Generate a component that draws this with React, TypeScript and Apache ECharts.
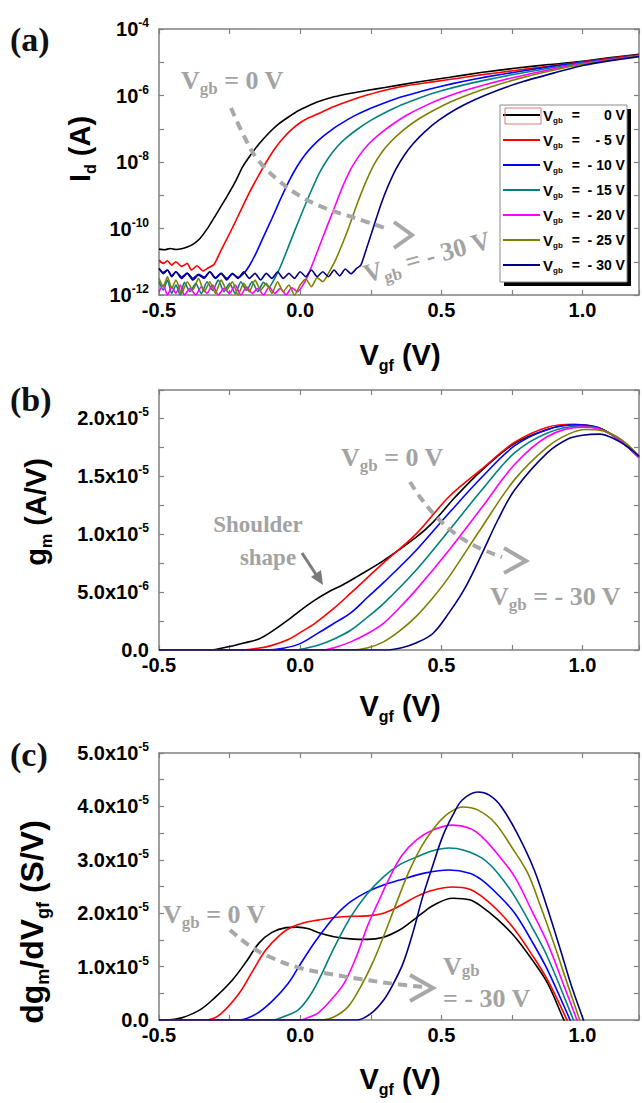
import React, { useEffect, useRef } from "react";
import * as echarts from "echarts";

const SANS = "'Liberation Sans', Arial, sans-serif";
const SERIF = "'Liberation Serif', 'Times New Roman', serif";
const FRAME = "#808080";
const NOTE = "#a3a3a3";

// Back-gate bias of each curve and its colour
const VGB_NAMES = ["0 V", "- 5 V", "- 10 V", "- 15 V", "- 20 V", "- 25 V", "- 30 V"];
const VGB_COLORS = ["#000000", "#ff0000", "#0000ff", "#008080", "#ff00ff", "#808000", "#000080"];

// (a) transfer curves: [Vgf (V), log10 Id (A)]
const ID_0V = [[-0.5,-10.62],[-0.48,-10.64],[-0.46,-10.6],[-0.44,-10.63],[-0.42,-10.61],[-0.4,-10.56],[-0.38,-10.48],[-0.355,-10.3],[-0.33,-10.02],[-0.31,-9.75],[-0.285,-9.4],[-0.26,-9.05],[-0.23,-8.6],[-0.205,-8.16],[-0.175,-7.78],[-0.146,-7.46],[-0.11,-7.12],[-0.077,-6.86],[-0.04,-6.64],[-0.007,-6.46],[0.03,-6.31],[0.063,-6.19],[0.12,-6.04],[0.18,-5.93],[0.24,-5.84],[0.3,-5.76],[0.41,-5.6],[0.53,-5.45],[0.64,-5.31],[0.76,-5.18],[0.88,-5.07],[0.99,-4.98],[1.1,-4.86],[1.2,-4.76]];
const ID_5V = [[-0.5,-10.95],[-0.485,-11.05],[-0.47,-10.97],[-0.455,-11.1],[-0.44,-11.0],[-0.42,-11.14],[-0.4,-11.05],[-0.385,-11.25],[-0.365,-11.12],[-0.345,-11.28],[-0.325,-11.18],[-0.305,-11.08],[-0.28,-10.65],[-0.26,-10.32],[-0.24,-9.98],[-0.21,-9.45],[-0.18,-8.92],[-0.15,-8.45],[-0.12,-8.0],[-0.09,-7.6],[-0.06,-7.28],[-0.03,-7.02],[0.0,-6.82],[0.03,-6.67],[0.063,-6.55],[0.12,-6.33],[0.18,-6.14],[0.24,-5.98],[0.3,-5.84],[0.38,-5.7],[0.47,-5.59],[0.56,-5.48],[0.64,-5.38],[0.76,-5.25],[0.88,-5.12],[1.0,-4.99],[1.1,-4.88],[1.2,-4.78]];
const ID_10V = [[-0.5,-11.2],[-0.485,-11.32],[-0.47,-11.25],[-0.455,-11.42],[-0.44,-11.3],[-0.42,-11.46],[-0.4,-11.34],[-0.38,-11.5],[-0.36,-11.38],[-0.34,-11.46],[-0.32,-11.3],[-0.3,-11.48],[-0.28,-11.35],[-0.26,-11.5],[-0.24,-11.37],[-0.22,-11.47],[-0.2,-11.35],[-0.18,-11.12],[-0.155,-10.72],[-0.13,-10.25],[-0.1,-9.7],[-0.07,-9.12],[-0.04,-8.58],[-0.01,-8.12],[0.02,-7.75],[0.05,-7.47],[0.08,-7.24],[0.11,-7.04],[0.14,-6.87],[0.19,-6.62],[0.24,-6.42],[0.3,-6.22],[0.36,-6.04],[0.43,-5.87],[0.5,-5.72],[0.58,-5.57],[0.66,-5.44],[0.76,-5.3],[0.88,-5.14],[1.0,-5.0],[1.1,-4.9],[1.2,-4.8]];
const ID_15V = [[-0.5,-11.6],[-0.485,-11.85],[-0.47,-11.55],[-0.455,-11.95],[-0.44,-11.7],[-0.425,-12.0],[-0.41,-11.62],[-0.39,-11.9],[-0.37,-11.65],[-0.35,-11.96],[-0.33,-11.6],[-0.31,-11.86],[-0.29,-11.55],[-0.27,-11.9],[-0.25,-11.65],[-0.23,-11.96],[-0.21,-11.6],[-0.19,-11.86],[-0.17,-11.6],[-0.15,-11.9],[-0.13,-11.62],[-0.11,-11.76],[-0.09,-11.5],[-0.07,-11.15],[-0.045,-10.62],[-0.02,-10.08],[0.01,-9.45],[0.04,-8.85],[0.07,-8.3],[0.1,-7.88],[0.13,-7.55],[0.16,-7.3],[0.2,-7.03],[0.25,-6.75],[0.3,-6.52],[0.36,-6.28],[0.43,-6.05],[0.5,-5.86],[0.58,-5.68],[0.66,-5.53],[0.76,-5.36],[0.88,-5.18],[1.0,-5.02],[1.1,-4.91],[1.2,-4.8]];
const ID_20V = [[-0.5,-11.9],[-0.485,-11.7],[-0.47,-12.0],[-0.455,-11.75],[-0.44,-11.95],[-0.425,-11.7],[-0.41,-12.0],[-0.39,-11.8],[-0.37,-12.0],[-0.35,-11.75],[-0.33,-11.95],[-0.31,-11.7],[-0.29,-12.0],[-0.27,-11.8],[-0.25,-11.95],[-0.23,-11.7],[-0.21,-12.0],[-0.19,-11.75],[-0.17,-11.95],[-0.15,-11.8],[-0.13,-12.0],[-0.11,-11.75],[-0.09,-11.95],[-0.07,-11.8],[-0.05,-12.0],[-0.03,-11.78],[-0.01,-11.9],[0.017,-11.6],[0.04,-11.15],[0.065,-10.6],[0.09,-10.05],[0.12,-9.4],[0.15,-8.75],[0.18,-8.2],[0.21,-7.8],[0.24,-7.48],[0.28,-7.17],[0.33,-6.85],[0.38,-6.58],[0.44,-6.32],[0.5,-6.1],[0.58,-5.86],[0.66,-5.66],[0.76,-5.45],[0.88,-5.23],[1.0,-5.04],[1.1,-4.92],[1.2,-4.81]];
const ID_25V = [[-0.5,-11.5],[-0.485,-11.75],[-0.47,-11.45],[-0.455,-11.8],[-0.44,-11.55],[-0.42,-11.95],[-0.4,-11.6],[-0.38,-11.85],[-0.36,-11.5],[-0.34,-11.9],[-0.32,-11.6],[-0.3,-11.95],[-0.28,-11.55],[-0.26,-11.85],[-0.24,-11.6],[-0.22,-12.0],[-0.2,-11.65],[-0.18,-11.9],[-0.16,-11.55],[-0.14,-11.85],[-0.12,-11.65],[-0.1,-11.95],[-0.08,-11.6],[-0.06,-11.9],[-0.04,-11.7],[-0.02,-12.0],[0.0,-11.7],[0.02,-11.52],[0.04,-11.75],[0.06,-11.48],[0.08,-11.6],[0.1,-11.35],[0.125,-10.95],[0.15,-10.45],[0.175,-9.9],[0.2,-9.3],[0.23,-8.65],[0.26,-8.1],[0.29,-7.7],[0.32,-7.4],[0.36,-7.08],[0.41,-6.76],[0.47,-6.46],[0.53,-6.2],[0.6,-5.96],[0.68,-5.73],[0.77,-5.5],[0.88,-5.27],[1.0,-5.06],[1.1,-4.93],[1.2,-4.81]];
const ID_30V = [[-0.5,-11.2],[-0.485,-11.36],[-0.47,-11.25],[-0.455,-11.45],[-0.44,-11.3],[-0.42,-11.5],[-0.4,-11.35],[-0.38,-11.55],[-0.36,-11.4],[-0.34,-11.5],[-0.32,-11.3],[-0.3,-11.5],[-0.28,-11.35],[-0.26,-11.55],[-0.24,-11.35],[-0.22,-11.5],[-0.2,-11.3],[-0.18,-11.5],[-0.16,-11.35],[-0.14,-11.55],[-0.12,-11.35],[-0.1,-11.5],[-0.08,-11.3],[-0.06,-11.5],[-0.04,-11.35],[-0.02,-11.5],[0.0,-11.3],[0.02,-11.45],[0.04,-11.25],[0.06,-11.45],[0.08,-11.3],[0.1,-11.45],[0.12,-11.25],[0.14,-11.42],[0.16,-11.22],[0.18,-11.36],[0.2,-11.2],[0.215,-11.1],[0.235,-10.6],[0.26,-9.95],[0.285,-9.3],[0.31,-8.75],[0.34,-8.2],[0.37,-7.78],[0.4,-7.45],[0.44,-7.1],[0.49,-6.75],[0.55,-6.42],[0.62,-6.12],[0.7,-5.84],[0.79,-5.58],[0.9,-5.32],[1.0,-5.1],[1.1,-4.95],[1.2,-4.83]];

// (b) transconductance: [Vgf (V), gm (1e-6 A/V)]
const GM_0V = [[-0.5,0],[-0.35,0],[-0.3,0.05],[-0.25,0.3],[-0.2,0.6],[-0.146,0.95],[-0.1,1.6],[-0.042,2.6],[0.0,3.4],[0.052,4.3],[0.1,5.0],[0.15,5.6],[0.2,6.3],[0.295,7.7],[0.41,9.7],[0.47,11.0],[0.55,13.2],[0.644,15.5],[0.76,17.8],[0.876,19.0],[0.96,19.4],[1.0,19.35],[1.07,19.0],[1.13,18.1],[1.2,16.6]];
const GM_5V = [[-0.5,0],[-0.22,0],[-0.15,0.15],[-0.1,0.4],[-0.042,0.9],[0.0,1.5],[0.052,2.3],[0.12,3.6],[0.179,4.9],[0.295,7.5],[0.411,10.0],[0.527,13.2],[0.644,15.6],[0.76,17.9],[0.876,19.2],[0.97,19.45],[1.05,19.2],[1.1,18.6],[1.15,17.7],[1.2,16.6]];
const GM_10V = [[-0.5,0],[-0.12,0],[-0.06,0.15],[0.0,0.55],[0.063,1.45],[0.12,2.3],[0.179,3.2],[0.237,4.5],[0.295,5.8],[0.411,8.6],[0.527,11.8],[0.644,14.9],[0.76,17.6],[0.876,19.0],[0.98,19.4],[1.05,19.2],[1.1,18.6],[1.15,17.7],[1.2,16.6]];
const GM_15V = [[-0.5,0],[-0.02,0],[0.02,0.15],[0.063,0.4],[0.12,0.95],[0.179,1.7],[0.237,2.8],[0.295,4.0],[0.411,6.9],[0.527,10.3],[0.644,13.8],[0.76,17.0],[0.876,18.7],[0.99,19.3],[1.05,19.15],[1.1,18.6],[1.15,17.7],[1.2,16.6]];
const GM_20V = [[-0.5,0],[0.08,0],[0.12,0.2],[0.179,0.7],[0.237,1.4],[0.295,2.3],[0.35,3.6],[0.411,5.2],[0.527,8.6],[0.644,12.3],[0.76,16.0],[0.876,18.4],[1.0,19.2],[1.05,19.1],[1.1,18.6],[1.15,17.7],[1.2,16.6]];
const GM_25V = [[-0.5,0],[0.18,0],[0.24,0.2],[0.295,0.7],[0.35,1.6],[0.411,2.9],[0.47,4.5],[0.527,6.3],[0.644,10.6],[0.76,14.7],[0.876,17.5],[0.95,18.6],[1.01,19.0],[1.07,18.9],[1.12,18.4],[1.16,17.7],[1.2,16.7]];
const GM_30V = [[-0.5,0],[0.3,0],[0.36,0.2],[0.41,0.6],[0.469,1.4],[0.527,3.2],[0.585,5.4],[0.644,8.3],[0.7,11.2],[0.76,13.8],[0.876,17.0],[0.95,18.2],[1.0,18.5],[1.06,18.6],[1.12,18.1],[1.16,17.5],[1.2,16.7]];

// (c) derivative of gm: [Vgf (V), dgm/dVgf (1e-6 S/V)]
const DGM_0V = [[-0.5,0],[-0.47,0],[-0.42,0.4],[-0.355,1.9],[-0.3,4.3],[-0.24,7.5],[-0.19,11.0],[-0.146,14.4],[-0.1,16.4],[-0.05,17.3],[-0.01,17.4],[0.03,17.1],[0.063,16.4],[0.12,15.6],[0.179,15.2],[0.237,15.1],[0.295,15.5],[0.35,16.8],[0.388,18.2],[0.43,19.9],[0.469,21.4],[0.54,22.8],[0.6,22.5],[0.644,21.2],[0.7,18.8],[0.76,15.6],[0.82,11.4],[0.876,6.9],[0.934,0],[0.96,-3]];
const DGM_5V = [[-0.5,0],[-0.33,0],[-0.28,1.2],[-0.216,5.0],[-0.17,9.0],[-0.122,13.1],[-0.07,16.0],[-0.03,17.4],[0.02,18.3],[0.063,18.7],[0.12,19.2],[0.179,19.4],[0.237,19.5],[0.295,20.0],[0.35,21.3],[0.411,23.1],[0.47,24.3],[0.54,24.9],[0.6,24.5],[0.644,23.1],[0.7,20.5],[0.76,16.9],[0.82,12.3],[0.876,7.5],[0.945,0],[0.97,-3]];
const DGM_10V = [[-0.5,0],[-0.22,0],[-0.16,1.0],[-0.1,3.5],[-0.042,6.9],[0.0,10.4],[0.052,14.6],[0.1,18.0],[0.133,20.0],[0.18,22.2],[0.237,24.0],[0.295,25.3],[0.353,26.2],[0.44,27.5],[0.527,28.1],[0.6,27.5],[0.644,26.2],[0.7,23.5],[0.76,20.0],[0.82,14.8],[0.876,9.4],[0.956,0],[0.98,-3]];
const DGM_15V = [[-0.5,0],[-0.1,0],[-0.05,0.8],[-0.007,1.9],[0.03,4.2],[0.063,7.2],[0.12,13.5],[0.179,19.3],[0.237,23.6],[0.295,26.8],[0.35,29.0],[0.411,30.5],[0.47,31.7],[0.527,32.2],[0.58,31.8],[0.644,30.3],[0.7,27.5],[0.76,23.1],[0.82,17.5],[0.876,11.8],[0.968,0],[0.99,-3]];
const DGM_20V = [[-0.5,0],[0.0,0],[0.03,0.5],[0.063,1.3],[0.11,3.8],[0.156,6.9],[0.2,12.0],[0.237,17.4],[0.28,22.5],[0.318,26.8],[0.36,30.8],[0.411,33.7],[0.47,35.6],[0.54,36.5],[0.6,35.9],[0.644,34.3],[0.7,31.0],[0.76,26.8],[0.82,20.5],[0.876,14.4],[0.93,7.0],[0.98,0],[1.0,-3]];
const DGM_25V = [[-0.5,0],[0.08,0],[0.121,0.6],[0.17,2.5],[0.214,6.2],[0.255,10.5],[0.295,15.6],[0.34,21.8],[0.388,28.1],[0.43,32.5],[0.469,35.6],[0.52,38.5],[0.575,39.9],[0.63,39.3],[0.69,36.9],[0.75,32.3],[0.806,27.5],[0.85,21.5],[0.898,14.4],[0.945,7.0],[0.99,0],[1.01,-3]];
const DGM_30V = [[-0.5,0],[0.2,0],[0.25,1.2],[0.295,3.7],[0.33,6.8],[0.365,10.7],[0.4,16.5],[0.434,23.1],[0.47,29.0],[0.504,34.3],[0.54,38.3],[0.574,41.2],[0.63,42.7],[0.67,42.1],[0.713,39.9],[0.77,34.8],[0.829,28.1],[0.875,21.0],[0.922,13.1],[0.96,6.5],[1.003,0],[1.02,-3]];

const ID_CURVES = [ID_0V, ID_5V, ID_10V, ID_15V, ID_20V, ID_25V, ID_30V];
const GM_CURVES = [GM_0V, GM_5V, GM_10V, GM_15V, GM_20V, GM_25V, GM_30V];
const DGM_CURVES = [DGM_0V, DGM_5V, DGM_10V, DGM_15V, DGM_20V, DGM_25V, DGM_30V];

// Axis ranges
const X_MIN = -0.5;
const X_MAX = 1.2;
const X_STEP = 0.25;
const X_LABEL_STEP = 0.5;
const ID_MIN = 1e-12;
const ID_MAX = 1e-4;
const GM_MAX = 2.24e-5;
const GM_STEP = 2.5e-6;
const GM_LABEL_STEP = 5e-6;
const DGM_MAX = 5e-5;
const DGM_STEP = 5e-6;
const DGM_LABEL_STEP = 1e-5;

const isMultiple = (v: number, step: number) => {
  const r = v / step;
  return Math.abs(r - Math.round(r)) < 1e-6;
};

const tickRich = {
  n: { fontFamily: SANS, fontWeight: "bold", fontSize: 20, lineHeight: 24, color: "#000" },
  sup: { fontFamily: SANS, fontWeight: "bold", fontSize: 12, lineHeight: 12, verticalAlign: "top", color: "#000" },
};

const xLabel = (v: number) =>
  isMultiple(v, X_LABEL_STEP) ? (Math.abs(v) < 1e-9 ? 0 : v).toFixed(1) : "";

const logLabel = (v: number) => {
  const e = Math.round(Math.log10(v));
  return e % 2 === 0 ? `{n|10}{sup|${e}}` : "";
};

const sciLabel = (step: number) => (v: number) => {
  if (!isMultiple(v, step)) return "";
  if (Math.abs(v) < 1e-15) return "{n|0.0}";
  const e = Math.floor(Math.log10(v) + 1e-9);
  const m = v / Math.pow(10, e);
  return `{n|${m.toFixed(1)}x10}{sup|${e}}`;
};

const axisLine = { show: true, onZero: false, lineStyle: { color: FRAME, width: 1.5 } };
const axisTick = { show: true, inside: true, length: 5, lineStyle: { color: FRAME, width: 1.2 } };

function xAxesFor(gridIndex: number) {
  const base = {
    type: "value",
    gridIndex,
    min: X_MIN,
    max: X_MAX,
    interval: X_STEP,
    axisLine,
    axisTick,
    splitLine: { show: false },
  };
  return [
    {
      ...base,
      position: "bottom",
      axisLabel: {
        show: true,
        margin: 5,
        formatter: xLabel,
        color: "#000",
        fontFamily: SANS,
        fontWeight: "bold",
        fontSize: 20,
      },
    },
    { ...base, position: "top", axisLabel: { show: false } },
  ];
}

function yAxesFor(gridIndex: number, extra: any, formatter: any) {
  const base = { gridIndex, axisLine, axisTick, splitLine: { show: false }, ...extra };
  return [
    {
      ...base,
      position: "left",
      axisLabel: { show: true, margin: 10, formatter, rich: tickRich },
    },
    { ...base, position: "right", axisLabel: { show: false } },
  ];
}

const titleRich = {
  m: { fontFamily: SANS, fontWeight: "bold", fontSize: 29, lineHeight: 36 },
  s: { fontFamily: SANS, fontWeight: "bold", fontSize: 16, lineHeight: 16, verticalAlign: "bottom" },
};

const bigTitleRich = {
  m: { fontFamily: SANS, fontWeight: "bold", fontSize: 32, lineHeight: 40 },
  s: { fontFamily: SANS, fontWeight: "bold", fontSize: 18, lineHeight: 18, verticalAlign: "bottom" },
};

const noteRich = {
  m: { fontFamily: SERIF, fontWeight: "bold", fontSize: 26, lineHeight: 34 },
  s: { fontFamily: SERIF, fontWeight: "bold", fontSize: 17, lineHeight: 17, verticalAlign: "bottom" },
};

const noteTightRich = {
  m: { fontFamily: SERIF, fontWeight: "bold", fontSize: 26, lineHeight: 26 },
  s: { fontFamily: SERIF, fontWeight: "bold", fontSize: 17, lineHeight: 17, verticalAlign: "bottom" },
};

const legendRich = {
  v: { fontFamily: SANS, fontWeight: "bold", fontSize: 15, lineHeight: 18 },
  s: { fontFamily: SANS, fontWeight: "bold", fontSize: 8, lineHeight: 8, verticalAlign: "bottom" },
  e: { fontFamily: SANS, fontWeight: "bold", fontSize: 14, padding: [0, 0, 0, 9] },
  n: { fontFamily: SANS, fontWeight: "bold", fontSize: 14, width: 45, align: "right" },
};

function text(x: number, y: number, t: string, rich: any, fill: string, opts: any = {}) {
  return {
    type: "text",
    x,
    y,
    rotation: opts.rotation || 0,
    z: opts.z || 20,
    style: {
      text: t,
      rich,
      fill,
      align: opts.align || "center",
      verticalAlign: "middle",
    },
  };
}

function dashed(points: number[][]) {
  return {
    type: "polyline",
    z: 15,
    shape: { points, smooth: 0.4 },
    style: { stroke: "#a8a8a8", lineWidth: 4, lineDash: [9, 6], fill: null },
  };
}

function chevron(points: number[][]) {
  return {
    type: "polyline",
    z: 15,
    shape: { points },
    style: { stroke: "#a8a8a8", lineWidth: 4, fill: null, lineJoin: "miter" },
  };
}

function panelLabel(y: number, t: string) {
  return {
    type: "text",
    x: 10,
    y,
    z: 20,
    style: {
      text: t,
      fill: "#111",
      fontFamily: SERIF,
      fontWeight: "bold",
      fontSize: 34,
      align: "left",
      verticalAlign: "middle",
    },
  };
}

// Key for panel (a): framed box with a solid drop shadow
const LEGEND_X = 500;
const LEGEND_Y = 105;
const LEGEND_W = 127;
const LEGEND_H = 177;
const LEGEND_ROW = 25;

function legendGraphics() {
  const items: any[] = [
    { type: "rect", z: 30, shape: { x: LEGEND_X + 4, y: LEGEND_Y + 4, width: LEGEND_W, height: LEGEND_H }, style: { fill: "#000" } },
    { type: "rect", z: 31, shape: { x: LEGEND_X, y: LEGEND_Y, width: LEGEND_W, height: LEGEND_H }, style: { fill: "#fff", stroke: "#8a8a8a", lineWidth: 1 } },
    { type: "rect", z: 33, shape: { x: LEGEND_X + 5, y: LEGEND_Y + 3, width: 36, height: 16 }, style: { fill: null, stroke: "#e07a7a", lineWidth: 1 } },
  ];
  VGB_NAMES.forEach((name, k) => {
    const y = LEGEND_Y + 10 + k * LEGEND_ROW;
    items.push({
      type: "line",
      z: 32,
      shape: { x1: LEGEND_X + 3, y1: y, x2: LEGEND_X + 40, y2: y },
      style: { stroke: VGB_COLORS[k], lineWidth: 2 },
    });
    items.push(text(LEGEND_X + 43, y, `{v|V}{s|gb}{e|=}{n|${name}}`, legendRich, "#000", { align: "left", z: 32 }));
  });
  return items;
}

function buildOption() {
  const series: any[] = [];
  const panels = [
    { curves: ID_CURVES, map: (p: number[]) => [p[0], Math.pow(10, p[1])], smooth: 0.2 },
    { curves: GM_CURVES, map: (p: number[]) => [p[0], p[1] * 1e-6], smooth: 0.35 },
    { curves: DGM_CURVES, map: (p: number[]) => [p[0], p[1] * 1e-6], smooth: 0.35 },
  ];
  panels.forEach((panel, g) => {
    panel.curves.forEach((pts, k) => {
      series.push({
        type: "line",
        name: VGB_NAMES[k],
        xAxisIndex: 2 * g,
        yAxisIndex: 2 * g,
        data: pts.map(panel.map),
        symbol: "none",
        showSymbol: false,
        smooth: panel.smooth,
        clip: true,
        z: 2,
        lineStyle: { color: VGB_COLORS[k], width: 1.6 },
        itemStyle: { color: VGB_COLORS[k] },
      });
    });
  });

  const graphic: any[] = [
    panelLabel(39, "(a)"),
    panelLabel(399, "(b)"),
    panelLabel(754, "(c)"),

    // axis titles
    text(400, 355, "{m|V}{s|gf}{m| (V)}", titleRich, "#000"),
    text(400, 706, "{m|V}{s|gf}{m| (V)}", titleRich, "#000"),
    text(400, 1079, "{m|V}{s|gf}{m| (V)}", titleRich, "#000"),
    text(80, 149, "{m|I}{s|d}{m| (A)}", titleRich, "#000", { rotation: Math.PI / 2 }),
    text(36, 512, "{m|g}{s|m}{m| (A/V)}", titleRich, "#000", { rotation: Math.PI / 2 }),
    text(32, 922, "{m|dg}{s|m}{m|/dV}{s|gf}{m| (S/V)}", bigTitleRich, "#000", { rotation: Math.PI / 2 }),

    // (a) annotations
    text(181, 80, "{m|V}{s|gb}{m| = 0 V}", noteRich, NOTE, { align: "left" }),
    dashed([[231, 108], [245, 138], [258, 160], [278, 180], [300, 196], [325, 208], [355, 218], [388, 229]]),
    chevron([[394, 222], [412, 235], [394, 248]]),
    text(427, 257, "{m|V}{s|gb}{m| = - 30 V}", noteRich, NOTE, { rotation: 0.27 }),

    // (b) annotations
    text(341, 457, "{m|V}{s|gb}{m| = 0 V}", noteRich, NOTE, { align: "left" }),
    dashed([[410, 482], [420, 497], [433, 513], [453, 532], [477, 547], [502, 557]]),
    chevron([[504, 548], [526, 561], [504, 573]]),
    text(490, 596, "{m|V}{s|gb}{m| = - 30 V}", noteRich, NOTE, { align: "left" }),
    {
      type: "text", x: 258, y: 524, z: 20,
      style: { text: "Shoulder", fill: NOTE, fontFamily: SERIF, fontWeight: "bold", fontSize: 23, align: "center", verticalAlign: "middle" },
    },
    {
      type: "text", x: 268, y: 557, z: 20,
      style: { text: "shape", fill: NOTE, fontFamily: SERIF, fontWeight: "bold", fontSize: 23, align: "center", verticalAlign: "middle" },
    },
    { type: "line", z: 15, shape: { x1: 302, y1: 553, x2: 317, y2: 576 }, style: { stroke: "#7a7a7a", lineWidth: 3 } },
    { type: "polygon", z: 15, shape: { points: [[323, 585], [311, 577], [321, 570]] }, style: { fill: "#7a7a7a" } },

    // (c) annotations
    text(163, 914, "{m|V}{s|gb}{m| = 0 V}", noteRich, NOTE, { align: "left" }),
    dashed([[230, 930], [250, 946], [270, 957], [300, 968], [330, 974], [360, 979], [395, 984], [424, 987]]),
    chevron([[410, 975], [433, 988], [410, 1001]]),
    text(443, 966, "{m|V}{s|gb}", noteTightRich, NOTE, { align: "left" }),
    text(443, 998, "{m|= - 30 V}", noteTightRich, NOTE, { align: "left" }),

    ...legendGraphics(),
  ];

  return {
    animation: false,
    backgroundColor: "#fff",
    grid: [
      { left: 159, top: 29, width: 487, height: 266 },
      { left: 159, top: 390, width: 487, height: 260 },
      { left: 159, top: 753, width: 487, height: 267 },
    ],
    xAxis: [...xAxesFor(0), ...xAxesFor(1), ...xAxesFor(2)],
    yAxis: [
      ...yAxesFor(0, { type: "log", logBase: 10, min: ID_MIN, max: ID_MAX, splitNumber: 8 }, logLabel),
      ...yAxesFor(1, { type: "value", min: 0, max: GM_MAX, interval: GM_STEP }, sciLabel(GM_LABEL_STEP)),
      ...yAxesFor(2, { type: "value", min: 0, max: DGM_MAX, interval: DGM_STEP }, sciLabel(DGM_LABEL_STEP)),
    ],
    series,
    graphic,
  };
}

export default function App() {
  const ref = useRef<HTMLDivElement>(null);
  useEffect(() => {
    if (!ref.current) return;
    const chart = echarts.init(ref.current, null, { renderer: "svg" });
    chart.setOption(buildOption() as any);
    return () => chart.dispose();
  }, []);
  return (
    <div
      ref={ref}
      style={{ position: "absolute", left: 0, top: 0, width: 642, height: 1103, background: "#fff", overflow: "hidden" }}
    />
  );
}
